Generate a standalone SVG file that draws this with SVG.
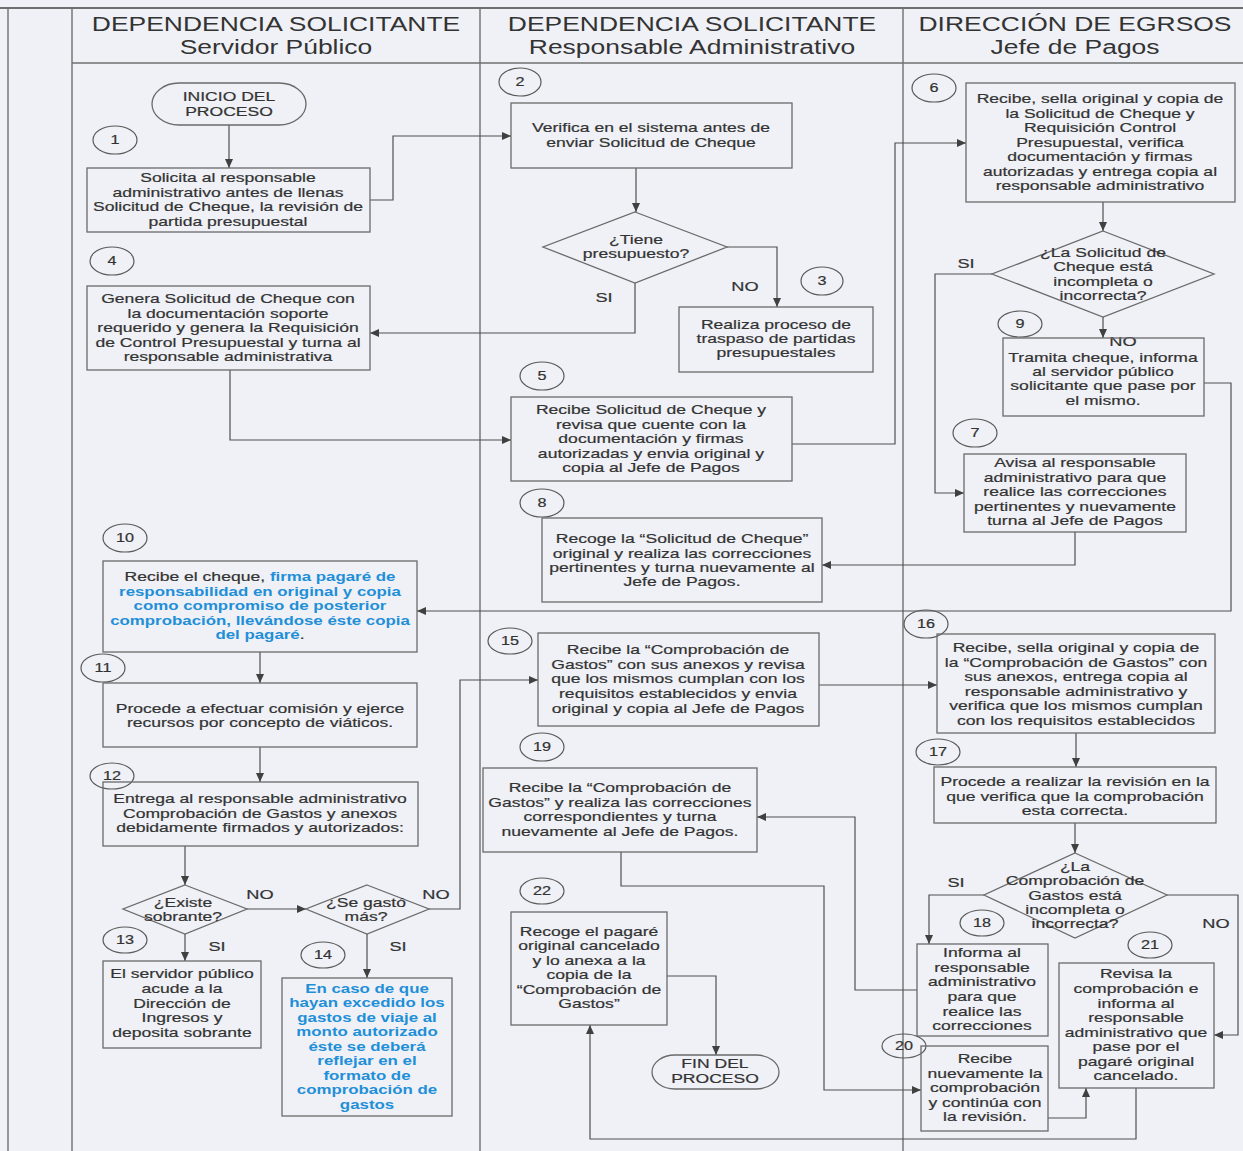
<svg xmlns="http://www.w3.org/2000/svg" width="1243" height="1151" viewBox="0 0 1243 1151">
<style>
.lane{stroke:#6f6f6f;stroke-width:1.4;fill:none}
.box{fill:none;stroke:#6a6a6a;stroke-width:1.3}
.num{fill:none;stroke:#5a5a5a;stroke-width:1.2}
.t{font-family:"Liberation Sans",Arial,sans-serif;font-size:13px;fill:#333;stroke:#333;stroke-width:0.2;text-anchor:middle}
.n{font-family:"Liberation Sans",Arial,sans-serif;font-size:12px;fill:#333;stroke:#333;stroke-width:0.2;text-anchor:middle}
.lb{font-family:"Liberation Sans",Arial,sans-serif;font-size:13.5px;fill:#333;stroke:#333;stroke-width:0.2;text-anchor:middle}
.h{font-family:"Liberation Sans",Arial,sans-serif;font-size:21px;fill:#333;text-anchor:middle}
.bl{fill:#1f8fd8;stroke:none;font-weight:bold;font-size:12.5px}
.c{fill:none;stroke:#505050;stroke-width:1.2;marker-end:url(#ah)}
</style>
<defs>
<marker id="ah" markerUnits="userSpaceOnUse" markerWidth="9" markerHeight="8" refX="9" refY="4" orient="auto">
<path d="M0,0 L9,4 L0,8 z" fill="#404040"/>
</marker>
</defs>
<rect x="0" y="0" width="1243" height="1151" fill="#eff1f6"/>
<g id="lanes">
<line class="lane" x1="0" y1="8" x2="1243" y2="8" style="stroke-width:2.2"/>
<line class="lane" x1="8" y1="8" x2="8" y2="1151"/>
<line class="lane" x1="72" y1="8" x2="72" y2="1151"/>
<line class="lane" x1="480" y1="8" x2="480" y2="1151"/>
<line class="lane" x1="903" y1="8" x2="903" y2="1151"/>
<line class="lane" x1="72" y1="63" x2="1243" y2="63"/>
<g transform="translate(276,0) scale(1.26,1)"><text class="h" x="0" y="31">DEPENDENCIA SOLICITANTE</text><text class="h" x="0" y="54">Servidor Público</text></g>
<g transform="translate(692,0) scale(1.26,1)"><text class="h" x="0" y="31">DEPENDENCIA SOLICITANTE</text><text class="h" x="0" y="54">Responsable Administrativo</text></g>
<g transform="translate(1075,0) scale(1.26,1)"><text class="h" x="0" y="31">DIRECCIÓN DE EGRSOS</text><text class="h" x="0" y="54">Jefe de Pagos</text></g>
</g>
<g id="connectors">
<path class="c" d="M229,125 V168"/>
<path class="c" d="M370,200 H393 V136 H511"/>
<path class="c" d="M636,168 V212"/>
<path class="c" d="M635,283 V333 H370"/>
<path class="c" d="M727,247 H777 V307"/>
<path class="c" d="M230,370 V440 H511"/>
<path class="c" d="M792,444 H895 V143 H966"/>
<path class="c" d="M1103,202 V231"/>
<path class="c" d="M992,274 H935 V493 H964"/>
<path class="c" d="M1103,317 V338"/>
<path class="c" d="M1075,532 V565 H822"/>
<path class="c" d="M1204,383 H1231 V611 H417"/>
<path class="c" d="M260,652 V683"/>
<path class="c" d="M260,747 V782"/>
<path class="c" d="M185,846 V885"/>
<path class="c" d="M247,909 H306"/>
<path class="c" d="M185,934 V961"/>
<path class="c" d="M367,934 V978"/>
<path class="c" d="M429,909 H460 V680 H538"/>
<path class="c" d="M819,685 H937"/>
<path class="c" d="M1076,733 V767"/>
<path class="c" d="M1075,823 V853"/>
<path class="c" d="M984,895 H929 V944"/>
<path class="c" d="M1167,895 H1238 V1035 H1214"/>
<path class="c" d="M917,990 H855 V817 H757"/>
<path class="c" d="M621,852 V886 H824 V1090 H921"/>
<path class="c" d="M1048,1118 H1086 V1088"/>
<path class="c" d="M1136,1088 V1139 H590 V1025"/>
<path class="c" d="M667,976 H716 V1055"/>
<g id="labels">
<g transform="translate(604,0) scale(1.35,1)"><text class="lb" x="0" y="302">SI</text></g>
<g transform="translate(745,0) scale(1.35,1)"><text class="lb" x="0" y="291">NO</text></g>
<g transform="translate(966,0) scale(1.35,1)"><text class="lb" x="0" y="268">SI</text></g>
<g transform="translate(1123,0) scale(1.35,1)"><text class="lb" x="0" y="346">NO</text></g>
<g transform="translate(260,0) scale(1.35,1)"><text class="lb" x="0" y="899">NO</text></g>
<g transform="translate(217,0) scale(1.35,1)"><text class="lb" x="0" y="951">SI</text></g>
<g transform="translate(436,0) scale(1.35,1)"><text class="lb" x="0" y="899">NO</text></g>
<g transform="translate(398,0) scale(1.35,1)"><text class="lb" x="0" y="951">SI</text></g>
<g transform="translate(956,0) scale(1.35,1)"><text class="lb" x="0" y="887">SI</text></g>
<g transform="translate(1216,0) scale(1.35,1)"><text class="lb" x="0" y="928">NO</text></g>
</g>
</g>
<g id="start">
<rect class="box" x="152" y="83" width="154" height="42" rx="27" ry="21"/>
<g transform="translate(229,0) scale(1.35,1)"><text class="t" x="0" y="101.5">INICIO DEL</text><text class="t" x="0" y="116">PROCESO</text></g>
</g>
<g id="n1">
<ellipse class="num" cx="115" cy="140" rx="22" ry="14"/>
<g transform="translate(115,0) scale(1.35,1)"><text class="n" x="0" y="144.5">1</text></g>
<rect class="box" x="87" y="168" width="283" height="64"/>
<g transform="translate(228,0) scale(1.35,1)"><text class="t" x="0" y="182.5">Solicita al responsable</text><text class="t" x="0" y="197">administrativo antes de llenas</text><text class="t" x="0" y="211.5">Solicitud de Cheque, la revisión de</text><text class="t" x="0" y="226">partida presupuestal</text></g>
</g>
<g id="n2">
<ellipse class="num" cx="520" cy="82" rx="21" ry="14"/>
<g transform="translate(520,0) scale(1.35,1)"><text class="n" x="0" y="86.5">2</text></g>
<rect class="box" x="511" y="103" width="281" height="65"/>
<g transform="translate(651,0) scale(1.35,1)"><text class="t" x="0" y="132.5">Verifica en el sistema antes de</text><text class="t" x="0" y="147">enviar Solicitud de Cheque</text></g>
</g>
<g id="d1">
<polygon class="box" points="635,212 727,247 635,283 543,247"/>
<g transform="translate(636,0) scale(1.35,1)"><text class="t" x="0" y="244.5">¿Tiene</text><text class="t" x="0" y="258">presupuesto?</text></g>
</g>
<g id="n3">
<ellipse class="num" cx="822" cy="281" rx="21" ry="14"/>
<g transform="translate(822,0) scale(1.35,1)"><text class="n" x="0" y="285.5">3</text></g>
<rect class="box" x="679" y="307" width="194" height="65"/>
<g transform="translate(776,0) scale(1.35,1)"><text class="t" x="0" y="329.5">Realiza proceso de</text><text class="t" x="0" y="343.5">traspaso de partidas</text><text class="t" x="0" y="357.5">presupuestales</text></g>
</g>
<g id="n4">
<ellipse class="num" cx="112" cy="261" rx="22" ry="14"/>
<g transform="translate(112,0) scale(1.35,1)"><text class="n" x="0" y="265.5">4</text></g>
<rect class="box" x="87" y="286" width="283" height="84"/>
<g transform="translate(228,0) scale(1.35,1)"><text class="t" x="0" y="303.5">Genera Solicitud de Cheque con</text><text class="t" x="0" y="318">la documentación soporte</text><text class="t" x="0" y="332.5">requerido y genera la Requisición</text><text class="t" x="0" y="347">de Control Presupuestal y turna al</text><text class="t" x="0" y="361.5">responsable administrativa</text></g>
</g>
<g id="n5">
<ellipse class="num" cx="542" cy="376" rx="22" ry="14"/>
<g transform="translate(542,0) scale(1.35,1)"><text class="n" x="0" y="380.5">5</text></g>
<rect class="box" x="511" y="397" width="281" height="84"/>
<g transform="translate(651,0) scale(1.35,1)"><text class="t" x="0" y="414.5">Recibe Solicitud de Cheque y</text><text class="t" x="0" y="429">revisa que cuente con la</text><text class="t" x="0" y="443.5">documentación y firmas</text><text class="t" x="0" y="458">autorizadas y envia original y</text><text class="t" x="0" y="472.5">copia al Jefe de Pagos</text></g>
</g>
<g id="n6">
<ellipse class="num" cx="934" cy="88" rx="22" ry="14"/>
<g transform="translate(934,0) scale(1.35,1)"><text class="n" x="0" y="92.5">6</text></g>
<rect class="box" x="966" y="83" width="269" height="119"/>
<g transform="translate(1100,0) scale(1.35,1)"><text class="t" x="0" y="103.5">Recibe, sella original y copia de</text><text class="t" x="0" y="118">la Solicitud de Cheque y</text><text class="t" x="0" y="132.5">Requisición Control</text><text class="t" x="0" y="147">Presupuestal, verifica</text><text class="t" x="0" y="161.5">documentación y firmas</text><text class="t" x="0" y="176">autorizadas y entrega copia al</text><text class="t" x="0" y="190">responsable administrativo</text></g>
</g>
<g id="d2">
<polygon class="box" points="1103,231 1214,274 1103,317 992,274"/>
<g transform="translate(1103,0) scale(1.35,1)"><text class="t" x="0" y="257.5">¿La Solicitud de</text><text class="t" x="0" y="271.5">Cheque está</text><text class="t" x="0" y="286">incompleta o</text><text class="t" x="0" y="300">incorrecta?</text></g>
</g>
<g id="n9">
<ellipse class="num" cx="1020" cy="324" rx="22" ry="13"/>
<g transform="translate(1020,0) scale(1.35,1)"><text class="n" x="0" y="328.5">9</text></g>
<rect class="box" x="1003" y="338" width="201" height="78"/>
<g transform="translate(1103,0) scale(1.35,1)"><text class="t" x="0" y="362">Tramita cheque, informa</text><text class="t" x="0" y="376">al servidor público</text><text class="t" x="0" y="390.5">solicitante que pase por</text><text class="t" x="0" y="405">el mismo.</text></g>
</g>
<g id="n7">
<ellipse class="num" cx="975" cy="433" rx="22" ry="14"/>
<g transform="translate(975,0) scale(1.35,1)"><text class="n" x="0" y="437.5">7</text></g>
<rect class="box" x="964" y="454" width="222" height="78"/>
<g transform="translate(1075,0) scale(1.35,1)"><text class="t" x="0" y="467.5">Avisa al responsable</text><text class="t" x="0" y="482">administrativo para que</text><text class="t" x="0" y="496.5">realice las correcciones</text><text class="t" x="0" y="511">pertinentes y nuevamente</text><text class="t" x="0" y="525.5">turna al Jefe de Pagos</text></g>
</g>
<g id="n8">
<ellipse class="num" cx="542" cy="503" rx="22" ry="14"/>
<g transform="translate(542,0) scale(1.35,1)"><text class="n" x="0" y="507.5">8</text></g>
<rect class="box" x="542" y="518" width="280" height="84"/>
<g transform="translate(682,0) scale(1.35,1)"><text class="t" x="0" y="543.5">Recoge la “Solicitud de Cheque”</text><text class="t" x="0" y="558">original y realiza las correcciones</text><text class="t" x="0" y="572">pertinentes y turna nuevamente al</text><text class="t" x="0" y="586.5">Jefe de Pagos.</text></g>
</g>
<g id="n10">
<ellipse class="num" cx="125" cy="538" rx="22" ry="14"/>
<g transform="translate(125,0) scale(1.35,1)"><text class="n" x="0" y="542.5">10</text></g>
<rect class="box" x="103" y="561" width="314" height="91"/>
<g transform="translate(260,0) scale(1.35,1)"><text class="t" x="0" y="581.5">Recibe el cheque,  <tspan class="bl">firma pagaré de</tspan></text><text class="t bl" x="0" y="596">responsabilidad en original y copia</text><text class="t bl" x="0" y="610.5">como compromiso de posterior</text><text class="t bl" x="0" y="625">comprobación, llevándose éste copia</text><text class="t" x="0" y="639.5"><tspan class="bl">del pagaré</tspan>.</text></g>
</g>
<g id="n11">
<ellipse class="num" cx="103" cy="668" rx="22" ry="14"/>
<g transform="translate(103,0) scale(1.35,1)"><text class="n" x="0" y="672.5">11</text></g>
<rect class="box" x="103" y="683" width="314" height="64"/>
<g transform="translate(260,0) scale(1.35,1)"><text class="t" x="0" y="712.5">Procede a efectuar comisión y ejerce</text><text class="t" x="0" y="727">recursos por concepto de viáticos.</text></g>
</g>
<g id="n12">
<ellipse class="num" cx="112" cy="776" rx="22" ry="13"/>
<g transform="translate(112,0) scale(1.35,1)"><text class="n" x="0" y="780.5">12</text></g>
<rect class="box" x="103" y="782" width="315" height="64"/>
<g transform="translate(260,0) scale(1.35,1)"><text class="t" x="0" y="803.5">Entrega al responsable administrativo</text><text class="t" x="0" y="818">Comprobación de Gastos y anexos</text><text class="t" x="0" y="832.5">debidamente firmados y autorizados:</text></g>
</g>
<g id="d3">
<polygon class="box" points="185,885 247,909 185,934 123,909"/>
<g transform="translate(183,0) scale(1.35,1)"><text class="t" x="0" y="907.5">¿Existe</text><text class="t" x="0" y="921.5">sobrante?</text></g>
</g>
<g id="d4">
<polygon class="box" points="367,885 429,909 367,934 306,909"/>
<g transform="translate(366,0) scale(1.35,1)"><text class="t" x="0" y="907.5">¿Se gastó</text><text class="t" x="0" y="921.5">más?</text></g>
</g>
<g id="n13">
<ellipse class="num" cx="125" cy="940" rx="22" ry="13"/>
<g transform="translate(125,0) scale(1.35,1)"><text class="n" x="0" y="944.5">13</text></g>
<rect class="box" x="103" y="961" width="158" height="87"/>
<g transform="translate(182,0) scale(1.35,1)"><text class="t" x="0" y="978.5">El servidor público</text><text class="t" x="0" y="993">acude a la</text><text class="t" x="0" y="1008">Dirección de</text><text class="t" x="0" y="1022.5">Ingresos y</text><text class="t" x="0" y="1037">deposita sobrante</text></g>
</g>
<g id="n14">
<ellipse class="num" cx="323" cy="955" rx="22" ry="13"/>
<g transform="translate(323,0) scale(1.35,1)"><text class="n" x="0" y="959.5">14</text></g>
<rect class="box" x="282" y="978" width="170" height="138"/>
<g transform="translate(367,0) scale(1.35,1)"><text class="t bl" x="0" y="993.5">En caso de que</text><text class="t bl" x="0" y="1007.5">hayan excedido los</text><text class="t bl" x="0" y="1022">gastos de viaje al</text><text class="t bl" x="0" y="1036.5">monto autorizado</text><text class="t bl" x="0" y="1051">éste se deberá</text><text class="t bl" x="0" y="1065.5">reflejar en el</text><text class="t bl" x="0" y="1080">formato de</text><text class="t bl" x="0" y="1094.5">comprobación de</text><text class="t bl" x="0" y="1109">gastos</text></g>
</g>
<g id="n15">
<ellipse class="num" cx="510" cy="641" rx="22" ry="13"/>
<g transform="translate(510,0) scale(1.35,1)"><text class="n" x="0" y="645.5">15</text></g>
<rect class="box" x="538" y="633" width="281" height="93"/>
<g transform="translate(678,0) scale(1.35,1)"><text class="t" x="0" y="654.5">Recibe la “Comprobación de</text><text class="t" x="0" y="669">Gastos” con sus anexos y revisa</text><text class="t" x="0" y="683.5">que los mismos cumplan con los</text><text class="t" x="0" y="698">requisitos establecidos y envia</text><text class="t" x="0" y="712.5">original y copia al Jefe de Pagos</text></g>
</g>
<g id="n16">
<ellipse class="num" cx="926" cy="624" rx="22" ry="14"/>
<g transform="translate(926,0) scale(1.35,1)"><text class="n" x="0" y="628.5">16</text></g>
<rect class="box" x="937" y="634" width="278" height="99"/>
<g transform="translate(1076,0) scale(1.35,1)"><text class="t" x="0" y="652.5">Recibe, sella original y copia de</text><text class="t" x="0" y="667">la “Comprobación de Gastos” con</text><text class="t" x="0" y="681.5">sus anexos, entrega copia al</text><text class="t" x="0" y="696">responsable administrativo  y</text><text class="t" x="0" y="710.5">verifica que los mismos cumplan</text><text class="t" x="0" y="725">con los requisitos establecidos</text></g>
</g>
<g id="n17">
<ellipse class="num" cx="938" cy="752" rx="22" ry="13"/>
<g transform="translate(938,0) scale(1.35,1)"><text class="n" x="0" y="756.5">17</text></g>
<rect class="box" x="934" y="767" width="282" height="56"/>
<g transform="translate(1075,0) scale(1.35,1)"><text class="t" x="0" y="786.5">Procede a realizar la revisión en la</text><text class="t" x="0" y="801">que verifica que la comprobación</text><text class="t" x="0" y="815">esta correcta.</text></g>
</g>
<g id="d5">
<polygon class="box" points="1075,853 1167,895 1075,938 984,895"/>
<g transform="translate(1075,0) scale(1.35,1)"><text class="t" x="0" y="871.5">¿La</text><text class="t" x="0" y="885.5">Comprobación de</text><text class="t" x="0" y="900.5">Gastos está</text><text class="t" x="0" y="914.5">incompleta o</text><text class="t" x="0" y="928.5">incorrecta?</text></g>
</g>
<g id="n18">
<ellipse class="num" cx="982" cy="923" rx="22" ry="13"/>
<g transform="translate(982,0) scale(1.35,1)"><text class="n" x="0" y="927.5">18</text></g>
<rect class="box" x="917" y="944" width="131" height="92"/>
<g transform="translate(982,0) scale(1.35,1)"><text class="t" x="0" y="957.5">Informa al</text><text class="t" x="0" y="972">responsable</text><text class="t" x="0" y="986.5">administrativo</text><text class="t" x="0" y="1001">para que</text><text class="t" x="0" y="1016">realice las</text><text class="t" x="0" y="1030.5">correcciones</text></g>
</g>
<g id="n19">
<ellipse class="num" cx="542" cy="747" rx="22" ry="14"/>
<g transform="translate(542,0) scale(1.35,1)"><text class="n" x="0" y="751.5">19</text></g>
<rect class="box" x="483" y="768" width="274" height="84"/>
<g transform="translate(620,0) scale(1.35,1)"><text class="t" x="0" y="792.5">Recibe la “Comprobación de</text><text class="t" x="0" y="807">Gastos” y realiza las correcciones</text><text class="t" x="0" y="821.5">correspondientes y turna</text><text class="t" x="0" y="836">nuevamente al Jefe de Pagos.</text></g>
</g>
<g id="n20">
<ellipse class="num" cx="904" cy="1046" rx="22" ry="12"/>
<g transform="translate(904,0) scale(1.35,1)"><text class="n" x="0" y="1050.5">20</text></g>
<rect class="box" x="921" y="1046" width="127" height="85"/>
<g transform="translate(985,0) scale(1.35,1)"><text class="t" x="0" y="1063.5">Recibe</text><text class="t" x="0" y="1078">nuevamente la</text><text class="t" x="0" y="1092.5">comprobación</text><text class="t" x="0" y="1107">y continúa con</text><text class="t" x="0" y="1121.5">la revisión.</text></g>
</g>
<g id="n21">
<ellipse class="num" cx="1150" cy="945" rx="22" ry="13"/>
<g transform="translate(1150,0) scale(1.35,1)"><text class="n" x="0" y="949.5">21</text></g>
<rect class="box" x="1059" y="963" width="155" height="125"/>
<g transform="translate(1136,0) scale(1.35,1)"><text class="t" x="0" y="978.5">Revisa la</text><text class="t" x="0" y="993">comprobación e</text><text class="t" x="0" y="1008">informa al</text><text class="t" x="0" y="1022.5">responsable</text><text class="t" x="0" y="1037">administrativo que</text><text class="t" x="0" y="1051.5">pase por el</text><text class="t" x="0" y="1066">pagaré original</text><text class="t" x="0" y="1080.5">cancelado.</text></g>
</g>
<g id="n22">
<ellipse class="num" cx="542" cy="891" rx="22" ry="13"/>
<g transform="translate(542,0) scale(1.35,1)"><text class="n" x="0" y="895.5">22</text></g>
<rect class="box" x="511" y="912" width="156" height="113"/>
<g transform="translate(589,0) scale(1.35,1)"><text class="t" x="0" y="936.5">Recoge el pagaré</text><text class="t" x="0" y="950.5">original cancelado</text><text class="t" x="0" y="965.5">y lo anexa a la</text><text class="t" x="0" y="979.5">copia de la</text><text class="t" x="0" y="994.5">“Comprobación de</text><text class="t" x="0" y="1008.5">Gastos”</text></g>
</g>
<g id="end">
<rect class="box" x="652" y="1055" width="127" height="34" rx="23" ry="17"/>
<g transform="translate(715,0) scale(1.35,1)"><text class="t" x="0" y="1068.5">FIN DEL</text><text class="t" x="0" y="1083">PROCESO</text></g>
</g>
</svg>
